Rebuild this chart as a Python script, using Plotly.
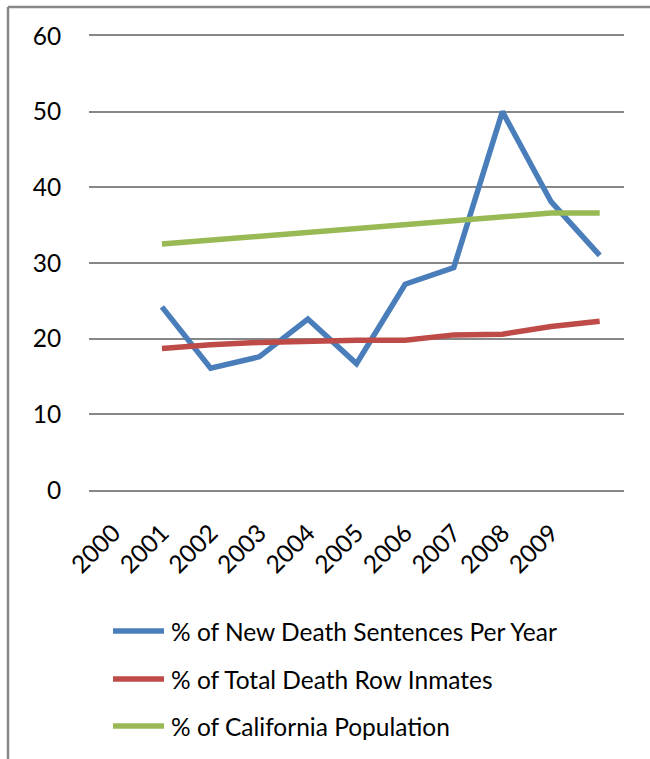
import plotly.graph_objects as go

# Tick labels (category axis has 11 slots; the last slot has no label)
tick_labels = ["2000", "2001", "2002", "2003", "2004", "2005", "2006", "2007", "2008", "2009"]
# Data occupy slots 1..10 (shifted one slot right of the first label, as in the source)
x_slots = [1, 2, 3, 4, 5, 6, 7, 8, 9, 10]

new_sentences = [24.2, 16.1, 17.6, 22.6, 16.7, 27.2, 29.4, 50.0, 38.1, 31.0]
death_row = [18.7, 19.2, 19.5, 19.7, 19.8, 19.8, 20.5, 20.6, 21.6, 22.3]
ca_population = [32.5, 33.0, 33.5, 34.1, 34.6, 35.1, 35.6, 36.1, 36.6, 36.6]

series_names = [
    "% of New Death Sentences Per Year",
    "% of Total Death Row Inmates",
    "% of California Population",
]
colors = ["#4A7EBB", "#BE4B48", "#98B954"]

FONT = "Lato, Calibri, Carlito, sans-serif"
FS = 24.5

fig = go.Figure()
for name, vals, col in zip(series_names, [new_sentences, death_row, ca_population], colors):
    fig.add_trace(go.Scatter(
        x=x_slots, y=vals, mode="lines", name=name,
        line=dict(color=col, width=5.5),
        showlegend=False,
    ))

W, H = 650, 759
ml, mr, mt, mb = 89, 26, 36, 269
pw, ph = W - ml - mr, H - mt - mb

def px_x(px):
    return (px - ml) / pw

def px_y(py):
    return (H - mb - py) / ph

shapes = [
    dict(type="line", xref="paper", yref="paper",
         x0=px_x(8), x1=px_x(660), y0=px_y(7), y1=px_y(7),
         line=dict(color="#888888", width=2.5)),
    dict(type="line", xref="paper", yref="paper",
         x0=px_x(8), x1=px_x(8), y0=px_y(7), y1=px_y(770),
         line=dict(color="#888888", width=2.5)),
]
annotations = []
legend_rows = [631, 679, 726]
for name, col, ry in zip(series_names, colors, legend_rows):
    shapes.append(dict(type="line", xref="paper", yref="paper",
                       x0=px_x(113), x1=px_x(164), y0=px_y(ry), y1=px_y(ry),
                       line=dict(color=col, width=5.5)))
    annotations.append(dict(xref="paper", yref="paper", x=px_x(169), y=px_y(ry),
                            xanchor="left", yanchor="middle", text=name,
                            showarrow=False, font=dict(size=FS, color="black")))

fig.update_layout(
    width=W, height=H,
    margin=dict(l=ml, r=mr, t=mt, b=mb),
    paper_bgcolor="white", plot_bgcolor="white",
    font=dict(family=FONT, size=FS, color="black"),
    showlegend=False,
    xaxis=dict(
        range=[-0.5, 10.5], tickmode="array",
        tickvals=list(range(len(tick_labels))), ticktext=tick_labels,
        tickangle=-45, showgrid=False, zeroline=False,
        showline=True, mirror=True, linecolor="#878787", linewidth=1.6,
        ticks="outside", ticklen=17, tickcolor="rgba(0,0,0,0)",
        tickfont=dict(size=FS), fixedrange=True,
    ),
    yaxis=dict(
        range=[0, 60], tickvals=[0, 10, 20, 30, 40, 50, 60],
        showgrid=True, gridcolor="#878787", gridwidth=1.6,
        zeroline=False, showline=False,
        ticks="outside", ticklen=22, tickcolor="rgba(0,0,0,0)",
        tickfont=dict(size=FS), fixedrange=True,
    ),
    shapes=shapes,
    annotations=annotations,
)

fig.write_html("out.html")
